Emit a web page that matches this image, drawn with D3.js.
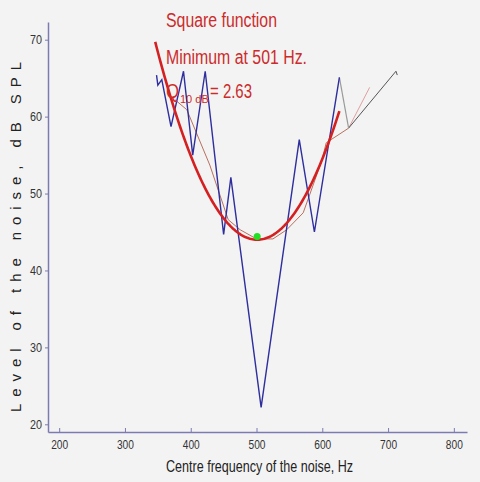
<!DOCTYPE html>
<html lang="en">
<head>
  <meta charset="UTF-8">
  <title>Square function fit</title>
  <script src="https://cdn.jsdelivr.net/npm/d3@7.9.0/dist/d3.min.js"></script>
  <style>
    html, body { margin: 0; padding: 0; background: #f3f3f3; }
    svg { display: block; }
    .narrow { font-family: "Liberation Sans Narrow", "Arial Narrow", "Liberation Sans", sans-serif; }
  </style>
</head>
<body>
  <div id="chart"></div>

  <script>
    // measured thresholds (blue)
    const blueFreq  = [348, 350, 356, 370, 389, 403, 422, 450, 461, 507, 565, 588, 626];
    const blueLevel = [65.4, 64.1, 64.8, 58.7, 65.9, 55.0, 65.9, 44.7, 52.1, 22.2, 57.0, 45.0, 65.1];

    // last drop and the dark tail
    const greyFreq  = [626, 640];
    const greyLevel = [65.1, 58.5];
    const darkFreq  = [640, 712, 714];
    const darkLevel = [58.5, 65.9, 65.4];

    // smoothed line (thin brown) + pink end
    const smoothFreq  = [376, 394, 429, 457, 475, 500, 525, 546, 571, 599, 606, 640];
    const smoothLevel = [62.2, 60.9, 53.7, 46.6, 45.3, 44.1, 44.1, 45.3, 47.5, 54.2, 56.6, 58.5];
    const pinkFreq  = [640, 672];
    const pinkLevel = [58.5, 63.8];

    // square function fit
    const fitMinFreq = 501, fitMinLevel = 44.0, fitK = 0.00107;
    const fitRange = [346, 626];
    const minPoint = [501, 44.4];

    const xTicks = [200, 300, 400, 500, 600, 700, 800];
    const yTicks = [20, 30, 40, 50, 60, 70];

    const width = 480, height = 482;
    const svg = d3.select("#chart").append("svg")
      .attr("width", width)
      .attr("height", height);

    const x = d3.scaleLinear().domain([183, 820]).range([48, 467]);
    const y = d3.scaleLinear().domain([19, 72.3]).range([432, 22]);

    const axisCol = "#7b7bb2";

    const xAxis = svg.append("g")
      .attr("transform", `translate(0,${y(19)})`)
      .call(d3.axisBottom(x).tickValues(xTicks).tickSizeInner(-4).tickSizeOuter(0).tickPadding(8));
    const yAxis = svg.append("g")
      .attr("transform", `translate(${x(183)},0)`)
      .call(d3.axisLeft(y).tickValues(yTicks).tickSizeInner(3).tickSizeOuter(0).tickPadding(3));

    [xAxis, yAxis].forEach(g => {
      g.select(".domain").attr("stroke", axisCol).attr("stroke-width", 1.5);
      g.selectAll(".tick line").attr("stroke", axisCol);
      g.selectAll(".tick text")
        .attr("class", "narrow")
        .attr("fill", "#333")
        .style("font-size", "13px")
        .attr("lengthAdjust", "spacingAndGlyphs");
    });
    xAxis.selectAll(".tick text").attr("textLength", 17);
    yAxis.selectAll(".tick text").attr("textLength", 12);

    const line = d3.line().x(d => x(d[0])).y(d => y(d[1]));
    const pairs = (a, b) => a.map((v, i) => [v, b[i]]);

    // thin lines first
    svg.append("path").datum(pairs(smoothFreq, smoothLevel))
      .attr("d", line).attr("fill", "none")
      .attr("stroke", "#b8705e").attr("stroke-width", 1);
    svg.append("path").datum(pairs(pinkFreq, pinkLevel))
      .attr("d", line).attr("fill", "none")
      .attr("stroke", "#e0a0a0").attr("stroke-width", 1);
    svg.append("path").datum(pairs(darkFreq, darkLevel))
      .attr("d", line).attr("fill", "none")
      .attr("stroke", "#555").attr("stroke-width", 1);
    svg.append("path").datum(pairs(greyFreq, greyLevel))
      .attr("d", line).attr("fill", "none")
      .attr("stroke", "#9a9a9a").attr("stroke-width", 1.2);

    svg.append("path").datum(pairs(blueFreq, blueLevel))
      .attr("d", line).attr("fill", "none")
      .attr("stroke", "#2e2e9e").attr("stroke-width", 1.4)
      .attr("stroke-linejoin", "miter");

    // fitted parabola
    const fitPts = d3.range(fitRange[0], fitRange[1] + 1, 2)
      .map(f => [f, fitMinLevel + fitK * (f - fitMinFreq) ** 2]);
    svg.append("path").datum(fitPts)
      .attr("d", line).attr("fill", "none")
      .attr("stroke", "#d42020").attr("stroke-width", 2.6);

    svg.append("circle")
      .attr("cx", x(minPoint[0])).attr("cy", y(minPoint[1]))
      .attr("r", 3.5).attr("fill", "#22e022");

    // annotations
    const red = "#cc2b2b";
    svg.append("text").attr("class", "narrow")
      .attr("x", 166).attr("y", 27)
      .attr("fill", red).style("font-size", "20px")
      .attr("textLength", 111).attr("lengthAdjust", "spacingAndGlyphs")
      .text("Square function");
    svg.append("text").attr("class", "narrow")
      .attr("x", 166).attr("y", 64)
      .attr("fill", red).style("font-size", "20px")
      .attr("textLength", 141).attr("lengthAdjust", "spacingAndGlyphs")
      .text("Minimum at 501 Hz.");

    // Q10dB = 2.63 as one text with tspans
    const q = svg.append("text").attr("class", "narrow")
      .attr("y", 98).attr("fill", red).style("font-size", "20px");
    q.append("tspan").attr("x", 166)
      .attr("textLength", 13).attr("lengthAdjust", "spacingAndGlyphs")
      .text("Q");
    q.append("tspan").attr("x", 180).attr("dy", 5)
      .style("font-size", "11px")
      .text("10 dB");
    q.append("tspan").attr("x", 210).attr("dy", -5)
      .attr("textLength", 42).attr("lengthAdjust", "spacingAndGlyphs")
      .text("= 2.63");

    // axis titles
    svg.append("text").attr("class", "narrow")
      .attr("x", 166).attr("y", 472)
      .attr("fill", "#222").style("font-size", "16px")
      .attr("textLength", 187).attr("lengthAdjust", "spacingAndGlyphs")
      .text("Centre frequency of the noise, Hz");

    svg.append("text")
      .attr("transform", `translate(21,237) rotate(-90)`)
      .attr("text-anchor", "middle")
      .attr("fill", "#222")
      .style("font-family", "'Liberation Sans', Arial, sans-serif")
      .style("font-size", "15px")
      .attr("textLength", 350).attr("lengthAdjust", "spacing")
      .text("Level of the noise, dB SPL");
  </script>
</body>
</html>
